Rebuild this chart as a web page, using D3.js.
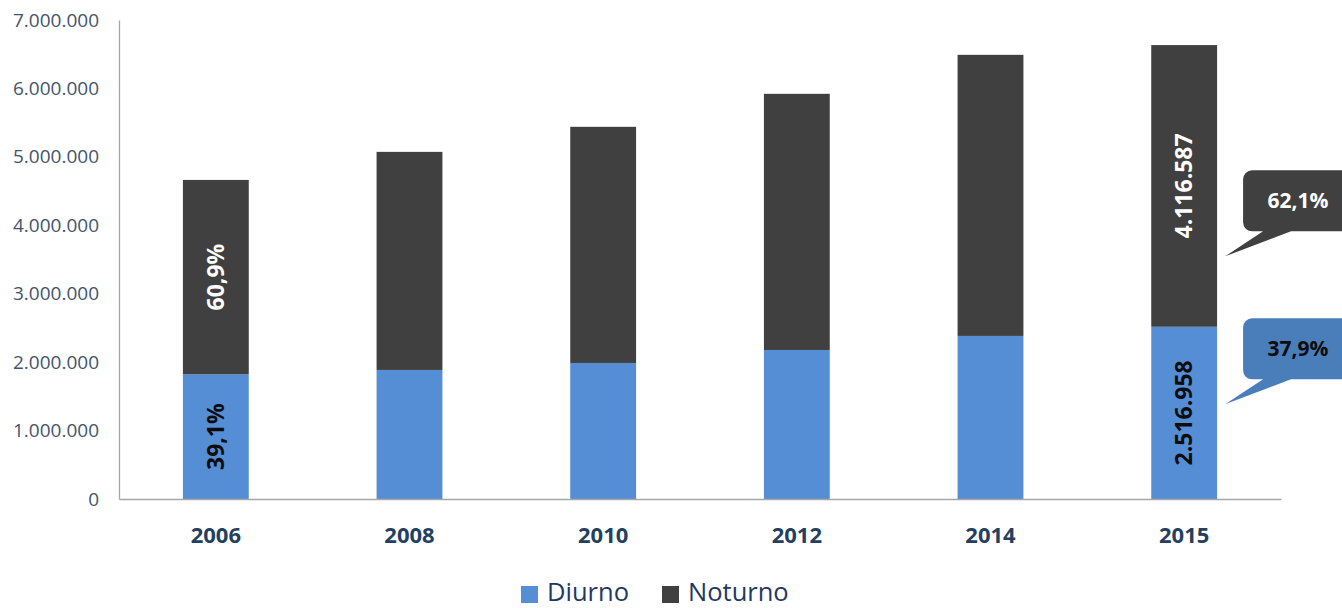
<!DOCTYPE html>
<html>
<head>
<meta charset="utf-8">
<script src="https://cdn.jsdelivr.net/npm/d3@7"></script>
<style>
body { margin: 0; background: #fff; }
svg, svg text { font-family: "Open Sans", "Noto Sans", sans-serif; }
svg { display: block; }
</style>
</head>
<body>
<div id="plot"></div>
<script>
// data
var years = ["2006", "2008", "2010", "2012", "2014", "2015"]
var diurno = [1823000, 1886000, 1988000, 2178000, 2383000, 2516958]
var noturno = [2840000, 3187000, 3451000, 3743000, 4108000, 4116587]
var yTicks = [0, 1000000, 2000000, 3000000, 4000000, 5000000, 6000000, 7000000]
var series = ["Diurno", "Noturno"]
// labels written inside bars (null = none)
var diurnoLabels = ["39,1%", null, null, null, null, "2.516.958"]
var noturnoLabels = ["60,9%", null, null, null, null, "4.116.587"]
// callouts next to last bar
var calloutNoturno = "62,1%"
var calloutDiurno = "37,9%"

var colors = {Diurno: "#558ED5", Noturno: "#404040"}

var width = 1342
var height = 608
var margin = {top: 20, right: 61, bottom: 109, left: 119}

var svg = d3.select("#plot").append("svg")
    .attr("width", width)
    .attr("height", height)

var x = d3.scaleBand()
    .domain(years)
    .range([margin.left, width - margin.right])
    .paddingInner(0.66)
    .paddingOuter(0.33)

var y = d3.scaleLinear()
    .domain([0, 7000000])
    .range([height - margin.bottom, margin.top])

var fmt = function (v) { return d3.format(",")(v).replace(/,/g, ".") }

// y axis
var yAxis = svg.append("g")
    .attr("transform", "translate(" + margin.left + ",0)")
    .call(d3.axisLeft(y).tickValues(yTicks).tickSize(0).tickPadding(20).tickFormat(fmt))
yAxis.attr("font-family", null)
yAxis.select(".domain").attr("stroke", "#A6A6A6").attr("stroke-width", 1.3)
yAxis.selectAll("text")
    .attr("fill", "#44546A")
    .style("font-size", "19px")

// stacked data
var rows = years.map(function (yr, i) {
    return {year: yr, Diurno: diurno[i], Noturno: noturno[i], i: i}
})
var stack = d3.stack().keys(series)(rows)

svg.selectAll(".layer")
    .data(stack)
    .enter().append("g")
    .attr("class", "layer")
    .attr("fill", function (d) { return colors[d.key] })
    .selectAll("rect")
    .data(function (d) { return d })
    .enter().append("rect")
    .attr("x", function (d) { return x(d.data.year) })
    .attr("y", function (d) { return y(d[1]) })
    .attr("width", x.bandwidth())
    .attr("height", function (d) { return y(d[0]) - y(d[1]) })

// x axis
var xAxis = svg.append("g")
    .attr("transform", "translate(0," + y(0) + ")")
    .call(d3.axisBottom(x).tickSize(0).tickPadding(28))
xAxis.attr("font-family", null)
xAxis.select(".domain").attr("stroke", "#A6A6A6").attr("stroke-width", 1.3)
xAxis.selectAll("text")
    .attr("fill", "#243F60")
    .style("font-size", "22px")
    .style("font-weight", "bold")

// labels inside bars, rotated
function barLabel(labels, lo, hi, color) {
    labels.forEach(function (t, i) {
        if (!t) return
        var cx = x(years[i]) + x.bandwidth() / 2
        var cy = (y(lo(i)) + y(hi(i))) / 2
        svg.append("text")
            .attr("transform", "translate(" + cx + "," + cy + ") rotate(-90)")
            .attr("text-anchor", "middle")
            .attr("dy", "0.36em")
            .attr("fill", color)
            .style("font-size", "23px")
            .style("font-weight", "bold")
            .text(t)
    })
}
barLabel(diurnoLabels, function () { return 0 }, function (i) { return diurno[i] }, "#0D0D0D")
barLabel(noturnoLabels, function (i) { return diurno[i] }, function (i) { return diurno[i] + noturno[i] }, "#FFFFFF")

// callouts
function callout(tipValue, text, fill, textColor) {
    var last = years[years.length - 1]
    var tx = x(last) + x.bandwidth() + 8
    var ty = y(tipValue)
    var bx = tx + 18, by = ty - 86, bw = 130, bh = 61, r = 9
    var p = d3.path()
    p.moveTo(bx + r, by)
    p.lineTo(bx + bw - r, by)
    p.arcTo(bx + bw, by, bx + bw, by + r, r)
    p.lineTo(bx + bw, by + bh - r)
    p.arcTo(bx + bw, by + bh, bx + bw - r, by + bh, r)
    p.lineTo(bx + 48, by + bh)
    p.lineTo(tx, ty)
    p.lineTo(bx + 20, by + bh)
    p.lineTo(bx + r, by + bh)
    p.arcTo(bx, by + bh, bx, by + bh - r, r)
    p.lineTo(bx, by + r)
    p.arcTo(bx, by, bx + r, by, r)
    p.closePath()
    svg.append("path").attr("d", p.toString()).attr("fill", fill)
    svg.append("text")
        .attr("x", bx + 55)
        .attr("y", by + bh / 2)
        .attr("dy", "0.36em")
        .attr("text-anchor", "middle")
        .attr("fill", textColor)
        .style("font-size", "21px")
        .style("font-weight", "bold")
        .text(text)
}
var n = years.length - 1
callout(diurno[n] + noturno[n] * 0.25, calloutNoturno, "#404040", "#FFFFFF")
callout(diurno[n] * 0.55, calloutDiurno, "#4A7EBB", "#0D0D0D")

// legend
var legend = svg.append("g").attr("transform", "translate(521,586)")
var items = legend.selectAll("g")
    .data(series)
    .enter().append("g")
    .attr("transform", function (d, i) { return "translate(" + (i * 141) + ",0)" })
items.append("rect")
    .attr("width", 17)
    .attr("height", 17)
    .attr("fill", function (d) { return colors[d] })
items.append("text")
    .attr("x", 26)
    .attr("y", 15)
    .attr("fill", "#1F3864")
    .style("font-size", "25.5px")
    .text(function (d) { return d })
</script>
</body>
</html>
